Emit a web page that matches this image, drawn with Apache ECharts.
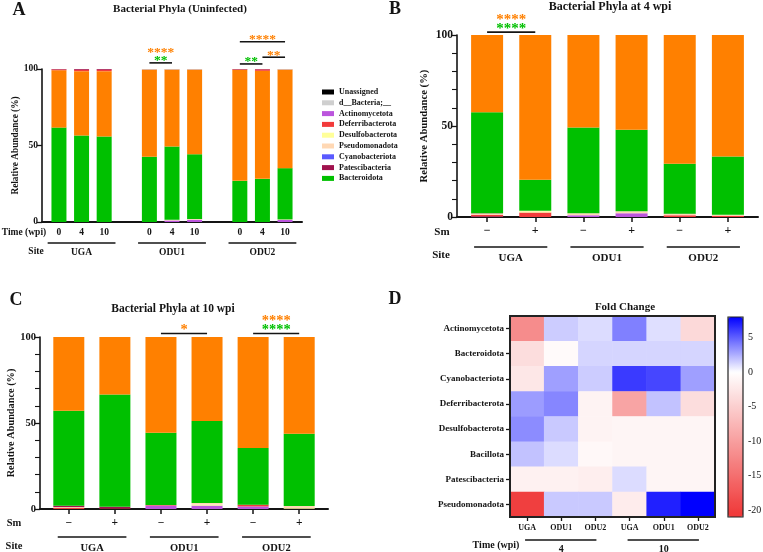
<!DOCTYPE html>
<html><head><meta charset="utf-8">
<script src="https://cdn.jsdelivr.net/npm/echarts@6/dist/echarts.min.js"></script>
<style>html,body{margin:0;padding:0;background:#fff}#c{width:763px;height:552px}</style>
</head><body><div id="c"></div>
<script>
// ---------------- DATA ----------------
// Panel A: Uninfected, bars = site x time
const sitesA = ['UGA', 'ODU1', 'ODU2'];
const timesA = ['0', '4', '10'];
const A_Bacteroidota      = [61.7, 56.5, 55.9, 42.6, 47.8, 42.3, 26.9, 28.2, 33.5];
const A_Bacillota         = [37.5, 42.1, 42.7, 57.0, 50.3, 55.3, 72.6, 70.6, 64.4];
const A_Actinomycetota    = [0, 0, 0, 0, 1.0, 1.5, 0, 0, 1.3];
const A_Pseudomonadota    = [0, 0, 0, 0, 0.5, 0.5, 0, 0, 0.4];
const A_Deferribacterota  = [0.5, 0.9, 0.9, 0, 0, 0, 0.2, 0.9, 0];
const A_Patescibacteria   = [0.3, 0.5, 0.5, 0.1, 0.1, 0.1, 0.3, 0.3, 0.1];
const A_dBacteria         = [0, 0, 0, 0.3, 0.3, 0.3, 0, 0, 0.3];

// Panels B/C: bars = site x Sm
const sitesBC = ['UGA', 'ODU1', 'ODU2'];
const smLabels = ['\u2212', '+'];
const B_Actinomycetota    = [0.3, 0, 1.0, 2.0, 0, 0];
const B_Deferribacterota  = [1.0, 2.5, 0, 0, 1.0, 0.5];
const B_Desulfobacterota  = [0, 0.7, 0, 0, 0, 0];
const B_Pseudomonadota    = [0.6, 0.3, 1.0, 1.2, 0.6, 0.8];
const B_Patescibacteria   = [0.2, 0, 0, 0, 0.2, 0];
const B_Bacteroidota      = [55.5, 17.0, 47.2, 44.7, 27.4, 31.9];
const B_Bacillota         = [42.4, 79.5, 50.8, 52.1, 70.8, 66.8];

const C_Actinomycetota    = [0, 0, 2.0, 2.0, 1.5, 0];
const C_Deferribacterota  = [0.6, 0.3, 0.3, 0, 1.0, 0];
const C_Desulfobacterota  = [0, 0, 0, 0.5, 0, 0.4];
const C_Pseudomonadota    = [0.5, 0, 0, 1.0, 0, 1.4];
const C_Patescibacteria   = [0.8, 1.0, 0, 0, 0, 0];
const C_Bacteroidota      = [55.2, 65.3, 42.1, 47.6, 33.0, 42.0];
const C_Bacillota         = [42.9, 33.4, 55.6, 48.9, 64.5, 56.2];

// Significance (bar indices, stars top->bottom with phylum colour)
const sigA = [
  { bars: [3, 4], marks: [['****', 'Bacillota'], ['**', 'Bacteroidota']] },
  { bars: [6, 8], marks: [['****', 'Bacillota']] },
  { bars: [6, 7], marks: [['**', 'Bacteroidota']] },
  { bars: [7, 8], marks: [['**', 'Bacillota']] }
];
const sigB = [
  { bars: [0, 1], marks: [['****', 'Bacillota'], ['****', 'Bacteroidota']] }
];
const sigC = [
  { bars: [2, 3], marks: [['*', 'Bacillota']] },
  { bars: [4, 5], marks: [['****', 'Bacillota'], ['****', 'Bacteroidota']] }
];

// Panel D: fold change heatmap
const fcSites = ['UGA', 'ODU1', 'ODU2'];
const fcTimes = ['4', '10'];
const fcRows = ['Actinomycetota', 'Bacteroidota', 'Cyanobacteriota', 'Deferribacterota',
                'Desulfobacterota', 'Bacillota', 'Patescibacteria', 'Pseudomonadota'];
const FC_Actinomycetota   = [-12.0, 1.6, 1.1, 4.0, 1.0, -4.0];
const FC_Bacteroidota     = [-3.5, -0.5, 1.3, 1.3, 1.3, 1.3];
const FC_Cyanobacteriota  = [-2.5, 3.0, 1.6, 6.2, 5.8, 3.0];
const FC_Deferribacterota = [3.1, 3.8, -1.3, -9.5, 1.9, -3.5];
const FC_Desulfobacterota = [3.6, 1.7, -1.3, -1.0, -1.0, -1.0];
const FC_Bacillota        = [1.9, 1.1, -0.7, -1.0, -1.0, -1.0];
const FC_Patescibacteria  = [-1.5, -1.5, -1.8, 1.1, -1.0, -1.0];
const FC_Pseudomonadota   = [-20.0, 1.7, 1.7, -2.0, 7.0, 8.0];
const fcMin = -21, fcMax = 8;
const fcTicks = [-20, -15, -10, -5, 0, 5];

const legendNames = ['Unassigned', 'd__Bacteria;__', 'Actinomycetota', 'Deferribacterota',
  'Desulfobacterota', 'Pseudomonadota', 'Cyanobacteriota', 'Patescibacteria', 'Bacteroidota'];

// ---------------- STYLE ----------------
const FONT = '"Liberation Serif","Times New Roman",Times,serif';
const INK = '#141414';
const phylumColors = {
  'Unassigned': '#000000', 'd__Bacteria;__': '#cfcfcf', 'Actinomycetota': '#bb55dd',
  'Deferribacterota': '#f23b3b', 'Desulfobacterota': '#ffff99', 'Pseudomonadota': '#ffd8b4',
  'Cyanobacteriota': '#5a5aff', 'Patescibacteria': '#a0124e', 'Bacteroidota': '#00c000',
  'Bacillota': '#ff8000'
};
const orderA = ['Actinomycetota', 'Pseudomonadota', 'Desulfobacterota', 'Cyanobacteriota', 'Bacteroidota',
  'Bacillota', 'Deferribacterota', 'Patescibacteria', 'Unassigned', 'd__Bacteria;__'];
const orderBC = ['Actinomycetota', 'Deferribacterota', 'Desulfobacterota', 'Pseudomonadota', 'Cyanobacteriota',
  'Patescibacteria', 'Bacteroidota', 'Bacillota', 'Unassigned', 'd__Bacteria;__'];

const valsA = { Bacteroidota: A_Bacteroidota, Bacillota: A_Bacillota, Actinomycetota: A_Actinomycetota,
  Pseudomonadota: A_Pseudomonadota, Deferribacterota: A_Deferribacterota, Patescibacteria: A_Patescibacteria,
  'd__Bacteria;__': A_dBacteria };
const valsB = { Actinomycetota: B_Actinomycetota, Deferribacterota: B_Deferribacterota,
  Desulfobacterota: B_Desulfobacterota, Pseudomonadota: B_Pseudomonadota, Patescibacteria: B_Patescibacteria,
  Bacteroidota: B_Bacteroidota, Bacillota: B_Bacillota };
const valsC = { Actinomycetota: C_Actinomycetota, Deferribacterota: C_Deferribacterota,
  Desulfobacterota: C_Desulfobacterota, Pseudomonadota: C_Pseudomonadota, Patescibacteria: C_Patescibacteria,
  Bacteroidota: C_Bacteroidota, Bacillota: C_Bacillota };
const fcData = [FC_Actinomycetota, FC_Bacteroidota, FC_Cyanobacteriota, FC_Deferribacterota,
  FC_Desulfobacterota, FC_Bacillota, FC_Patescibacteria, FC_Pseudomonadota];

// category slots: fine-grained slots so the axis line can run past the outer bars
const nA = 23, nBC = 25;
const idxA = []; sitesA.forEach((s, g) => timesA.forEach((t, j) => idxA.push(g * 8 + 1 + 2 * j)));
const idxBC = []; sitesBC.forEach((s, g) => smLabels.forEach((t, j) => idxBC.push(2 + 4 * (g * 2 + j))));
const catsA = Array.from({ length: nA }, (_, i) => 'a' + i);
const catsBC = Array.from({ length: nBC }, (_, i) => 'b' + i);
const labA = {}; idxA.forEach((k, i) => { labA[k] = timesA[i % timesA.length]; });
const labBC = {}; idxBC.forEach((k, i) => { labBC[k] = smLabels[i % smLabels.length]; });
const fcCols = []; fcTimes.forEach(t => fcSites.forEach(s => fcCols.push(s + '|' + t)));

const chart = echarts.init(document.getElementById('c'), null, { renderer: 'canvas' });

function stackSeries(p, order, vals, idx, n, bw) {
  return order.map(name => {
    const src = vals[name] || idx.map(() => 0);
    const data = new Array(n).fill(null);
    idx.forEach((k, i) => { data[k] = src[i]; });
    return {
      type: 'bar', name, xAxisIndex: p, yAxisIndex: p, stack: 's' + p, barWidth: bw,
      data, itemStyle: { color: phylumColors[name] }, silent: true, emphasis: { disabled: true }
    };
  });
}
const txt = (size, weight) => ({ fontFamily: FONT, fontWeight: weight || 'bold', fontSize: size, color: INK });

function yAx(p, gap, nameSize, labSize, minor) {
  return {
    type: 'value', gridIndex: p, min: 0, max: 100, interval: 50,
    name: 'Relative Abundance (%)', nameLocation: 'middle', nameGap: gap, nameRotate: 90,
    nameTextStyle: txt(nameSize),
    axisLine: { show: true, lineStyle: { color: INK, width: 1.6 } },
    axisTick: { show: true, length: 5, lineStyle: { color: INK, width: 1.3 } },
    minorTick: { show: minor, splitNumber: 5, length: 5, lineStyle: { color: INK, width: 1.1 } },
    splitLine: { show: false }, minorSplitLine: { show: false },
    axisLabel: Object.assign(txt(labSize), { margin: 4 })
  };
}
function xCat(p, cats, labs, ticks, labSize, margin) {
  return {
    type: 'category', gridIndex: p, data: cats,
    axisLine: { show: true, onZero: false, lineStyle: { color: INK, width: 2 } },
    axisTick: { show: ticks, alignWithLabel: true, length: 5, lineStyle: { color: INK, width: 1.5 },
                interval: (i) => labs[i] !== undefined },
    splitLine: { show: false },
    axisLabel: Object.assign(txt(labSize), { margin, interval: 0,
      formatter: (v, i) => labs[i] !== undefined ? labs[i] : '' })
  };
}

// colour stops: white at 0, red below, blue above
function fcColor(v) {
  const lo = [240, 58, 58], hi = [0, 0, 255];
  const t = v < 0 ? Math.min(1, -v / 20.5) : Math.min(1, v / fcMax);
  const e = v < 0 ? lo : hi;
  const c = e.map(k => Math.round(255 + (k - 255) * t));
  return 'rgb(' + c.join(',') + ')';
}
const stops = [];
for (let i = 0; i <= 58; i++) stops.push(fcColor(fcMin + i * 0.5));

const heatData = [];
fcRows.forEach((r, ri) => fcData[ri].forEach((v, ci) => heatData.push([ci, ri, v])));

const series = [].concat(
  stackSeries(0, orderA, valsA, idxA, nA, 15),
  stackSeries(1, orderBC, valsB, idxBC, nBC, 32),
  stackSeries(2, orderBC, valsC, idxBC, nBC, 31),
  [{ type: 'heatmap', xAxisIndex: 3, yAxisIndex: 3, data: heatData, silent: true,
     itemStyle: { borderWidth: 0 }, emphasis: { disabled: true } }]
);
const heatIdx = series.length - 1;

const gridBase = { containLabel: false, outerBoundsMode: 'none' };
const option = {
  animation: false,
  backgroundColor: '#ffffff',
  grid: [
    Object.assign({ left: 42, top: 69, width: 260, height: 153 }, gridBase),
    Object.assign({ left: 457, top: 35, width: 301, height: 182 }, gridBase),
    Object.assign({ left: 40, top: 337, width: 288, height: 172 }, gridBase),
    Object.assign({ left: 510, top: 316, width: 205, height: 201, show: true, borderColor: '#222', borderWidth: 2, z: 10 }, gridBase),
    Object.assign({ left: 728, top: 317, width: 15, height: 200, show: true, borderColor: '#222', borderWidth: 1.2, z: 10 }, gridBase)
  ],
  xAxis: [
    xCat(0, catsA, labA, false, 9.5, 6),
    xCat(1, catsBC, labBC, true, 12, 8),
    xCat(2, catsBC, labBC, true, 11.5, 8),
    { type: 'category', gridIndex: 3, data: fcCols,
      axisLine: { show: false },
      axisTick: { show: true, alignWithLabel: true, length: 4, lineStyle: { color: INK, width: 1.3 } },
      splitLine: { show: false }, splitArea: { show: false },
      axisLabel: Object.assign(txt(8), { margin: 7, formatter: v => v.split('|')[0] }) },
    { type: 'value', gridIndex: 4, show: false, min: 0, max: 1 }
  ],
  yAxis: [
    yAx(0, 22, 9.3, 9.5, false),
    yAx(1, 27, 10.7, 11.5, true),
    yAx(2, 24, 10.3, 10.5, true),
    { type: 'category', gridIndex: 3, data: fcRows, inverse: true,
      axisLine: { show: false },
      axisTick: { show: true, alignWithLabel: true, length: 4, lineStyle: { color: INK, width: 1.3 } },
      splitLine: { show: false }, splitArea: { show: false },
      axisLabel: Object.assign(txt(9), { margin: 6 }) },
    { type: 'value', gridIndex: 4, min: fcMin, max: fcMax, position: 'right',
      axisLine: { show: false }, splitLine: { show: false },
      axisTick: { show: true, customValues: fcTicks, length: 3, lineStyle: { color: INK, width: 1 } },
      axisLabel: Object.assign(txt(10, 'normal'), { customValues: fcTicks, margin: 5 }) }
  ],
  visualMap: [{
    type: 'continuous', seriesIndex: heatIdx, min: fcMin, max: fcMax,
    left: 728, top: 317, itemWidth: 15, itemHeight: 200, padding: 0,
    calculable: false, hoverLink: false, realtime: false,
    inRange: { color: stops }
  }],
  legend: {
    orient: 'vertical', left: 322, top: 87, padding: 0, itemWidth: 12, itemHeight: 5, itemGap: 0.8,
    icon: 'rect', selectedMode: false, data: legendNames,
    textStyle: Object.assign(txt(8), { lineHeight: 10 })
  },
  series
};
chart.setOption(option);

// ---------------- ANNOTATIONS (positions from the axes) ----------------
const g = [];
function T(text, x, y, size, color, weight) {
  g.push({ type: 'text', x, y, z: 100, silent: true,
    style: { text, fill: color || INK, fontFamily: FONT, fontWeight: weight || 'bold', fontSize: size,
             align: 'center', verticalAlign: 'middle' } });
}
function L(x1, y1, x2, y2, w) {
  g.push({ type: 'line', z: 100, silent: true, shape: { x1, y1, x2, y2 }, style: { stroke: INK, lineWidth: w || 1.5 } });
}
const P = (grid, x, y) => chart.convertToPixel({ gridIndex: grid }, [x, y]);
const PX = (grid, k) => P(grid, k, 0)[0];

// letters & titles
T('A', 19, 10, 18); T('B', 395, 9, 18); T('C', 16, 300, 18); T('D', 395, 299, 18);
T('Bacterial Phyla (Uninfected)', 180, 9, 11);
T('Bacterial Phyla at 4 wpi', 610, 7, 12);
T('Bacterial Phyla at 10 wpi', 173, 309, 11.5);
T('Fold Change', 625, 307, 11);

// row labels
T('Time (wpi)', 24, 233, 9.5); T('Site', 36, 252, 9.5);
T('Sm', 442, 232, 11); T('Site', 441, 255, 11);
T('Sm', 14, 523, 10.5); T('Site', 14, 546, 10.5);
T('Time (wpi)', 496, 545, 10);

// site groups (pads in fractions of the bar spacing)
function groups(grid, sites, idx, per, padL, padR, lineY, labY, size) {
  const step = PX(grid, idx[1]) - PX(grid, idx[0]);
  sites.forEach((s, k) => {
    const a = PX(grid, idx[k * per]) - padL * step;
    const b = PX(grid, idx[k * per + per - 1]) + padR * step;
    L(a, lineY, b, lineY, 1.6);
    T(s, (a + b) / 2, labY, size);
  });
}
groups(0, sitesA, idxA, 3, 0.5, 0.5, 243, 253, 9.5);
groups(1, sitesBC, idxBC, 2, 0.27, 0.25, 247, 258, 11);
groups(2, sitesBC, idxBC, 2, 0.24, 0.25, 537, 548, 10.5);

// heatmap time groups
fcTimes.forEach((t, k) => {
  const a = PX(3, k * 3), b = PX(3, k * 3 + 2);
  L(a - 2, 540, b + 1, 540, 1.6);
  T(t, (a + b) / 2, 549, 10);
});

// significance brackets
function sig(grid, list, idx, lineVals, starSize, gap1, gap2) {
  list.forEach((s, k) => {
    const p1 = P(grid, idx[s.bars[0]], lineVals[k]);
    const p2 = P(grid, idx[s.bars[1]], lineVals[k]);
    L(p1[0], p1[1], p2[0], p1[1], 1.6);
    const cx = (p1[0] + p2[0]) / 2;
    const n = s.marks.length;
    s.marks.forEach((m, j) => {
      const fromBottom = n - 1 - j;
      const y = p1[1] - gap1 - fromBottom * gap2 + 4;
      T(m[0], cx, y, starSize, phylumColors[m[1]]);
    });
  });
}
sig(0, sigA, idxA, [104, 117.8, 103.3, 107.7], 13.5, 6, 8);
sig(1, sigB, idxBC, [101.6], 15, 7, 9);
sig(2, sigC, idxBC, [102, 102], 14.5, 7, 9);

chart.setOption({ graphic: g });
</script>
</body></html>
